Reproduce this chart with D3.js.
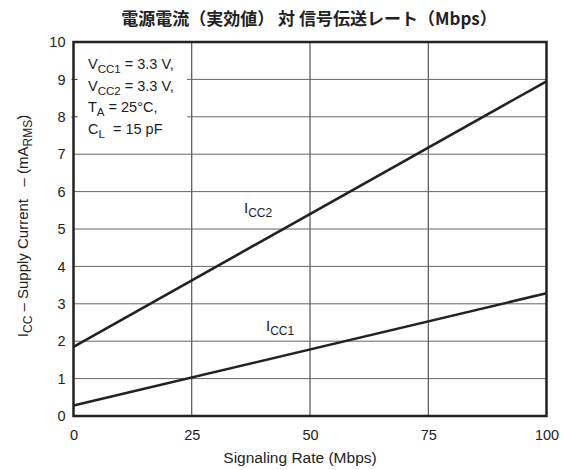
<!DOCTYPE html>
<html>
<head>
<meta charset="utf-8">
<script src="https://cdn.jsdelivr.net/npm/d3@7"></script>
<style>
  html, body { margin: 0; padding: 0; background: #fff; }
  svg { display: block; }
  text { font-family: "Liberation Sans", Arial, Helvetica, sans-serif; fill: #222; white-space: pre; }
</style>
</head>
<body>
<svg id="chart" width="563" height="470"></svg>
<script>
// Supply current vs signaling rate
const title = "電源電流（実効値） 対 信号伝送レート（Mbps）";
const rateMbps = [0, 100];
const icc1 = [0.28, 3.28];
const icc2 = [1.85, 8.95];
const xTicks = [0, 25, 50, 75, 100];
const yTicks = [0, 1, 2, 3, 4, 5, 6, 7, 8, 9, 10];
const conditions = [
  ["V", "CC1", " = 3.3 V,"],
  ["V", "CC2", " = 3.3 V,"],
  ["T", "A", " = 25°C,"],
  ["C", "L", "  = 15 pF"]
];

const svg = d3.select("#chart");
const m = { left: 73.5, right: 546.5, top: 42, bottom: 416 };

const x = d3.scaleLinear().domain([0, 100]).range([m.left, m.right]);
const y = d3.scaleLinear().domain([0, 10]).range([m.bottom, m.top]);

// Title
svg.append("text")
  .attr("x", 309).attr("y", 25)
  .attr("text-anchor", "middle")
  .style("font-family", "'Noto Sans CJK JP', sans-serif")
  .style("font-weight", "bold")
  .style("font-size", "17px")
  .text(title);

const grid = svg.append("g");

// Vertical grid lines
grid.selectAll("line.v")
  .data(xTicks.filter(d => d > 0 && d < 100))
  .join("line")
  .attr("x1", d => x(d)).attr("x2", d => x(d))
  .attr("y1", m.top).attr("y2", m.bottom)
  .attr("stroke", "#333").attr("stroke-width", 1);

// Horizontal grid lines; 8 and 9 leave room for the conditions block
const boxEdge = 187;
grid.selectAll("line.h")
  .data(yTicks.filter(d => d > 0 && d < 10))
  .join("line")
  .attr("x1", d => d >= 8 ? boxEdge : m.left)
  .attr("x2", m.right)
  .attr("y1", d => y(d)).attr("y2", d => y(d))
  .attr("stroke", "#666").attr("stroke-width", 1);

// Short stubs at the left edge for 8 and 9
grid.selectAll("line.stub")
  .data([8, 9])
  .join("line")
  .attr("x1", m.left - 2).attr("x2", m.left + 4)
  .attr("y1", d => y(d)).attr("y2", d => y(d))
  .attr("stroke", "#333").attr("stroke-width", 1);

// Axes (labels only, the frame is drawn separately)
const xAxis = svg.append("g")
  .attr("transform", `translate(0,${m.bottom})`)
  .call(d3.axisBottom(x).tickValues(xTicks).tickSize(0).tickPadding(14));
xAxis.select(".domain").remove();
xAxis.selectAll("text")
  .style("font-size", "14.5px")
  .style("font-family", "'Liberation Sans', Arial, sans-serif")
  .attr("fill", "#222");

const yAxis = svg.append("g")
  .attr("transform", `translate(${m.left},0)`)
  .call(d3.axisLeft(y).tickValues(yTicks).tickSize(0).tickPadding(8));
yAxis.select(".domain").remove();
yAxis.selectAll("text")
  .style("font-size", "14.5px")
  .style("font-family", "'Liberation Sans', Arial, sans-serif")
  .attr("fill", "#222");

// Data lines
const line = d3.line().x(d => x(d[0])).y(d => y(d[1]));
const series = [
  { name: "CC1", values: icc1, lx: 266, ly: 331 },
  { name: "CC2", values: icc2, lx: 244, ly: 213 }
];
svg.selectAll("path.series")
  .data(series)
  .join("path")
  .attr("class", "series")
  .attr("d", s => line(rateMbps.map((r, i) => [r, s.values[i]])))
  .attr("fill", "none")
  .attr("stroke", "#222")
  .attr("stroke-width", 2.6);

// Series labels
series.forEach(s => {
  const t = svg.append("text")
    .attr("x", s.lx).attr("y", s.ly)
    .style("font-size", "15px");
  t.append("tspan").text("I");
  t.append("tspan").attr("dy", 4).style("font-size", "12px").text(s.name);
});

// Frame
svg.append("rect")
  .attr("x", m.left).attr("y", m.top)
  .attr("width", m.right - m.left).attr("height", m.bottom - m.top)
  .attr("fill", "none")
  .attr("stroke", "#222")
  .attr("stroke-width", 2.5);

// Test conditions
conditions.forEach((c, i) => {
  const t = svg.append("text")
    .attr("x", 88).attr("y", 69 + i * 21.5)
    .style("font-size", "14.5px");
  t.append("tspan").text(c[0]);
  t.append("tspan").attr("dy", 4).style("font-size", "11.5px").text(c[1]);
  t.append("tspan").attr("dy", -4).text(c[2]);
});

// Axis titles
svg.append("text")
  .attr("x", 300).attr("y", 463)
  .attr("text-anchor", "middle")
  .style("font-size", "15.5px")
  .text("Signaling Rate (Mbps)");

const yt = svg.append("text")
  .attr("transform", "translate(28,226) rotate(-90)")
  .attr("text-anchor", "middle")
  .style("font-size", "15px");
yt.append("tspan").text("I");
yt.append("tspan").attr("dy", 4).style("font-size", "12px").text("CC");
yt.append("tspan").attr("dy", -4).text(" – Supply Current   – (mA");
yt.append("tspan").attr("dy", 4).style("font-size", "12px").text("RMS");
yt.append("tspan").attr("dy", -4).text(")");
</script>
</body>
</html>
